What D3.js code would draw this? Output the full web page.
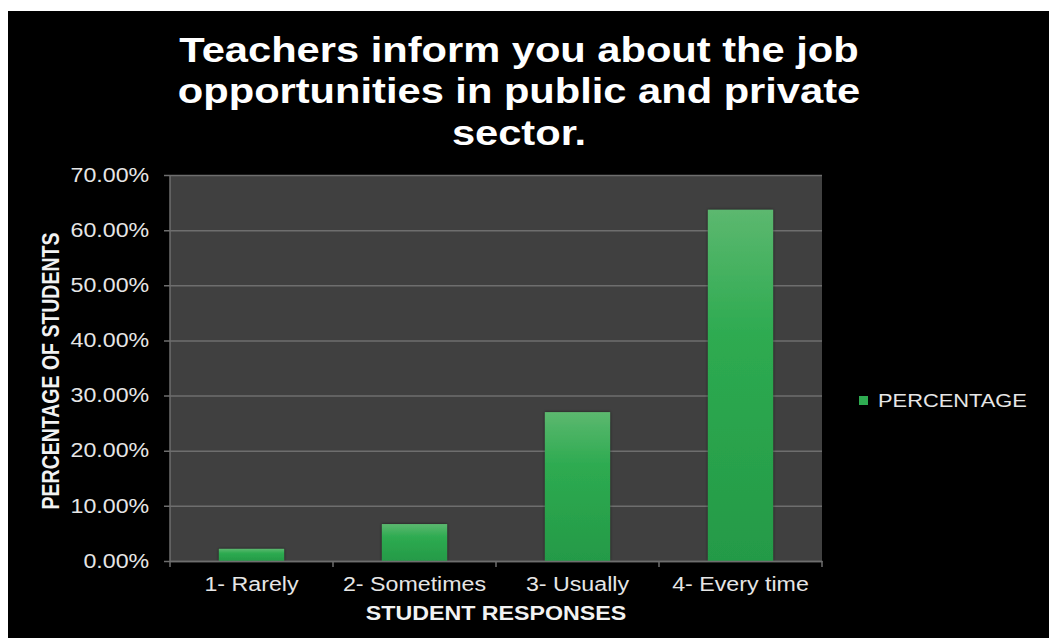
<!DOCTYPE html>
<html>
<head>
<meta charset="utf-8">
<script src="https://cdn.jsdelivr.net/npm/d3@7"></script>
<style>
  html, body { margin: 0; padding: 0; background: #fff; }
  svg { display: block; }
</style>
</head>
<body>
<div id="chart"></div>
<script>
const categories = ['1- Rarely', '2- Sometimes', '3- Usually', '4- Every time'];
const percentage = [0.022, 0.067, 0.27, 0.637];
const yTicks = [0, 0.1, 0.2, 0.3, 0.4, 0.5, 0.6, 0.7];
const titleLines = ['Teachers inform you about the job', 'opportunities in public and private', 'sector.'];

const width = 1049, height = 638;
const plot = { left: 170, right: 822, top: 175, bottom: 561 };
const font = '"Liberation Sans", Arial, sans-serif';
const stretch = 1.19; // the original picture is widened horizontally

const svg = d3.select('#chart')
              .append('svg')
              .attr('width', width)
              .attr('height', height);

// black panel, white margin at top/left
svg.append('rect')
   .attr('x', 8).attr('y', 11)
   .attr('width', width - 8).attr('height', height - 11)
   .attr('fill', '#000');

const defs = svg.append('defs');
const grad = defs.append('linearGradient')
                 .attr('id', 'barGrad')
                 .attr('x1', 0).attr('y1', 0).attr('x2', 0).attr('y2', 1);
grad.append('stop').attr('offset', '0%').attr('stop-color', '#5cb86f');
grad.append('stop').attr('offset', '35%').attr('stop-color', '#2eab51');
grad.append('stop').attr('offset', '100%').attr('stop-color', '#249a47');

const shadow = defs.append('filter').attr('id', 'shadow')
                   .attr('x', '-20%').attr('y', '-20%').attr('width', '140%').attr('height', '140%');
shadow.append('feDropShadow')
      .attr('dx', 0).attr('dy', 0).attr('stdDeviation', 1.5)
      .attr('flood-color', '#000').attr('flood-opacity', 0.6);

const xScale = d3.scaleBand()
                 .domain(categories)
                 .range([plot.left, plot.right])
                 .paddingInner(0.6)
                 .paddingOuter(0.3);

const xBand = d3.scaleBand()
                .domain(categories)
                .range([plot.left, plot.right]);

const yScale = d3.scaleLinear()
                 .domain([0, 0.7])
                 .range([plot.bottom, plot.top]);

// plot background
svg.append('rect')
   .attr('x', plot.left).attr('y', plot.top)
   .attr('width', plot.right - plot.left)
   .attr('height', plot.bottom - plot.top)
   .attr('fill', '#404040');

// gridlines + left ticks
const yAxis = svg.append('g')
   .attr('transform', `translate(${plot.left},0)`)
   .call(d3.axisLeft(yScale)
           .tickValues(yTicks)
           .tickSize(-(plot.right - plot.left))
           .tickPadding(17.5)
           .tickFormat(d => (d * 100).toFixed(2) + '%'));
yAxis.select('.domain').remove();
yAxis.selectAll('.tick line')
     .attr('x1', -6)
     .attr('stroke', '#6e6e6e')
     .attr('stroke-width', 1.5);
yAxis.selectAll('.tick text')
     .attr('fill', '#e6e6e6')
     .attr('transform', `scale(${stretch},1)`)
     .style('font-family', font)
     .style('font-size', '19.5px');

// left axis line
svg.append('line')
   .attr('x1', plot.left).attr('x2', plot.left)
   .attr('y1', plot.top).attr('y2', plot.bottom)
   .attr('stroke', '#6e6e6e').attr('stroke-width', 1.5);

// bars
svg.selectAll('rect.bar')
   .data(percentage)
   .enter()
   .append('rect')
   .attr('class', 'bar')
   .attr('x', (d, i) => xScale(categories[i]))
   .attr('width', xScale.bandwidth())
   .attr('y', d => yScale(d))
   .attr('height', d => plot.bottom - yScale(d))
   .attr('fill', 'url(#barGrad)')
   .attr('filter', 'url(#shadow)');

// bottom axis with ticks at category boundaries
const xAxis = svg.append('g')
   .attr('transform', `translate(0,${plot.bottom})`)
   .call(d3.axisBottom(xBand).tickSize(0).tickPadding(16));
xAxis.select('.domain')
     .attr('stroke', '#6e6e6e')
     .attr('stroke-width', 1.5);
xAxis.selectAll('.tick text')
     .attr('fill', '#e6e6e6')
     .attr('transform', `scale(${stretch},1)`)
     .style('font-family', font)
     .style('font-size', '19.5px');

const bounds = [plot.left].concat(categories.map(c => xBand(c) + xBand.bandwidth()));
svg.selectAll('line.xtick')
   .data(bounds)
   .enter()
   .append('line')
   .attr('class', 'xtick')
   .attr('x1', d => d).attr('x2', d => d)
   .attr('y1', plot.bottom).attr('y2', plot.bottom + 6)
   .attr('stroke', '#6e6e6e').attr('stroke-width', 1.5);

// axis titles
svg.append('text')
   .attr('transform', `translate(${(plot.left + plot.right) / 2},620) scale(${stretch},1)`)
   .attr('text-anchor', 'middle')
   .style('font-family', font)
   .style('font-weight', 'bold')
   .style('font-size', '19.5px')
   .attr('fill', '#f2f2f2')
   .text('STUDENT RESPONSES');

svg.append('text')
   .attr('transform', `translate(59,371) scale(${stretch},1) rotate(-90)`)
   .attr('text-anchor', 'middle')
   .style('font-family', font)
   .style('font-weight', 'bold')
   .style('font-size', '19.5px')
   .attr('fill', '#f2f2f2')
   .text('PERCENTAGE OF STUDENTS');

// title
svg.append('text')
   .attr('transform', `translate(519,62) scale(${stretch},1)`)
   .attr('text-anchor', 'middle')
   .style('font-family', font)
   .style('font-weight', 'bold')
   .style('font-size', '35px')
   .attr('fill', '#fff')
   .selectAll('tspan')
   .data(titleLines)
   .enter()
   .append('tspan')
   .attr('x', 0)
   .attr('dy', (d, i) => i === 0 ? 0 : 41.5)
   .text(d => d);

// legend
const legend = svg.append('g').attr('transform', 'translate(859,396)');
legend.append('rect')
      .attr('x', 0).attr('y', 0)
      .attr('width', 9).attr('height', 9)
      .attr('fill', '#2eab51');
legend.append('text')
      .attr('transform', `translate(19,11) scale(1.15,1)`)
      .style('font-family', font)
      .style('font-size', '19px')
      .attr('fill', '#e6e6e6')
      .text('PERCENTAGE');
</script>
</body>
</html>
